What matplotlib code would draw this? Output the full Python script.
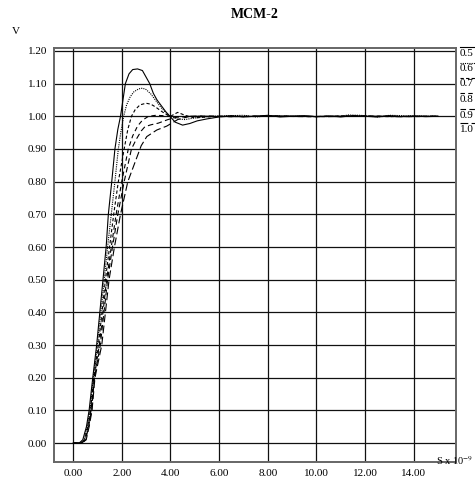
import matplotlib
matplotlib.use("Agg")
import matplotlib.pyplot as plt
from matplotlib.lines import Line2D

plt.rcParams['font.family'] = ['Liberation Serif', 'DejaVu Serif']
plt.rcParams['mathtext.fontset'] = 'stix'

# ---- data (time in ns, voltage in V) ----
labels = ["0.5", "0.6", "0.7", "0.8", "0.9", "1.0"]

t_05 = [0, 0.25, 0.4, 0.55, 0.66, 0.81, 0.97, 1.1, 1.23, 1.36, 1.45, 1.59, 1.72, 1.84, 1.95, 2.05,
        2.15, 2.3, 2.45, 2.65, 2.85, 3.0, 3.15, 3.3, 3.45, 3.6, 3.8, 4.0, 4.2, 4.5, 4.8, 5.1, 5.5,
        6.0, 6.5, 7.0, 7.5, 8.0, 8.5, 9.0, 9.5, 10.0, 10.5, 11.0, 11.5, 12.0, 12.5, 13.0, 13.5,
        14.0, 14.5, 15.0]
v_05 = [0, 0, 0.01, 0.05, 0.10, 0.20, 0.30, 0.40, 0.50, 0.60, 0.70, 0.80, 0.90, 0.96, 1.00, 1.05,
        1.10, 1.13, 1.143, 1.145, 1.14, 1.12, 1.10, 1.07, 1.05, 1.035, 1.015, 0.998, 0.982, 0.973,
        0.978, 0.986, 0.992, 0.998, 1.002, 0.998, 1.0, 1.003, 0.998, 1.0, 1.002, 0.999, 1.001,
        0.998, 1.002, 1.0, 0.998, 1.002, 0.999, 1.001, 0.999, 1.0]

t_06 = [0, 0.3, 0.45, 0.58, 0.7, 0.83, 1.0, 1.14, 1.28, 1.42, 1.57, 1.72, 1.86, 1.97, 2.08, 2.2,
        2.35, 2.5, 2.7, 2.85, 3.0, 3.2, 3.4, 3.6, 3.8, 4.0, 4.3, 4.6, 5.0, 5.5, 6.0, 7.0, 7.5, 8.0,
        9.0, 10.0, 11.0, 11.3, 11.8, 12.5, 13.0, 14.0, 15.0]
v_06 = [0, 0, 0.01, 0.05, 0.10, 0.20, 0.30, 0.40, 0.50, 0.60, 0.70, 0.80, 0.90, 0.955, 1.0, 1.035,
        1.06, 1.075, 1.084, 1.086, 1.082, 1.068, 1.048, 1.028, 1.012, 1.0, 0.992, 0.99, 0.995,
        0.999, 1.001, 1.003, 0.998, 1.001, 1.0, 0.999, 1.0, 1.004, 1.003, 0.998, 1.003, 1.001, 1.0]

t_07 = [0, 0.32, 0.48, 0.6, 0.72, 0.85, 1.04, 1.19, 1.33, 1.5, 1.67, 1.86, 2.1, 2.25, 2.4, 2.55,
        2.75, 3.0, 3.2, 3.4, 3.6, 3.8, 4.0, 4.3, 4.6, 5.0, 5.5, 6.0, 7.0, 8.0, 9.0, 10.0, 11.0,
        12.0, 13.0, 14.0, 15.0]
v_07 = [0, 0, 0.01, 0.05, 0.10, 0.20, 0.30, 0.40, 0.50, 0.60, 0.70, 0.80, 0.90, 0.96, 1.0, 1.02,
        1.035, 1.04, 1.037, 1.028, 1.017, 1.007, 1.0, 1.012, 1.003, 0.995, 0.998, 1.0, 0.999,
        1.001, 1.0, 0.999, 1.001, 1.0, 0.999, 1.0, 1.0]

t_08 = [0, 0.34, 0.5, 0.62, 0.74, 0.87, 1.08, 1.23, 1.38, 1.57, 1.77, 2.0, 2.27, 2.45, 2.65, 2.85,
        3.1, 3.4, 3.7, 4.0, 4.4, 5.0, 6.0, 7.0, 8.0, 9.0, 10.0, 11.0, 12.0, 13.0, 14.0, 15.0]
v_08 = [0, 0, 0.01, 0.05, 0.10, 0.20, 0.30, 0.40, 0.50, 0.60, 0.70, 0.80, 0.90, 0.94, 0.97, 0.988,
        1.0, 1.003, 1.002, 1.0, 0.998, 1.0, 0.999, 1.0, 1.001, 1.0, 0.999, 1.0, 1.001, 1.0, 0.999,
        1.0]

t_09 = [0, 0.35, 0.52, 0.64, 0.76, 0.88, 1.12, 1.27, 1.42, 1.62, 1.84, 2.1, 2.4, 2.6, 2.8, 2.95,
        3.2, 3.5, 3.9, 4.3, 4.8, 5.5, 6.5, 7.5, 8.5, 9.5, 10.5, 11.5, 12.5, 13.5, 14.5, 15.0]
v_09 = [0, 0, 0.01, 0.05, 0.10, 0.20, 0.30, 0.40, 0.50, 0.60, 0.70, 0.80, 0.90, 0.93, 0.955, 0.968,
        0.974, 0.979, 0.99, 0.998, 1.0, 1.001, 0.999, 1.0, 1.0, 0.999, 1.0, 1.001, 1.0, 0.999,
        1.0, 1.0]

t_10 = [0, 0.36, 0.54, 0.66, 0.78, 0.90, 1.18, 1.33, 1.48, 1.7, 1.95, 2.25, 2.6, 2.8, 3.03, 3.44,
        3.85, 4.3, 4.8, 5.5, 6.5, 7.5, 8.5, 9.5, 10.5, 11.5, 12.5, 13.5, 14.5, 15.0]
v_10 = [0, 0, 0.01, 0.05, 0.10, 0.20, 0.30, 0.40, 0.50, 0.60, 0.70, 0.80, 0.87, 0.91, 0.938, 0.958,
        0.97, 0.99, 1.0, 1.0, 0.999, 1.0, 1.001, 1.0, 0.999, 1.0, 1.0, 0.999, 1.0, 1.0]

x_ticks = [0, 2, 4, 6, 8, 10, 12, 14]
y_ticks = [0.0, 0.1, 0.2, 0.3, 0.4, 0.5, 0.6, 0.7, 0.8, 0.9, 1.0, 1.1, 1.2]

series_t = [t_05, t_06, t_07, t_08, t_09, t_10]
series_v = [v_05, v_06, v_07, v_08, v_09, v_10]
styles = ['-', (0, (1, 1)), (0, (3, 2)), (0, (4, 3)), (0, (5, 3)), (0, (7, 3))]

W, H = 475, 483
fig = plt.figure(figsize=(W / 100, H / 100), dpi=100)
ax = fig.add_axes([54.3 / W, 1 - 461.7 / H, (455.7 - 54.3) / W, (461.7 - 48) / H])

for t, v, ls in zip(series_t, series_v, styles):
    ax.plot(t, v, color='black', lw=0.8, linestyle=ls, zorder=3)

ax.set_xlim(-0.77, 15.72)
ax.set_ylim(-0.057, 1.209)
ax.set_xticks(x_ticks)
ax.set_xticklabels([f"{x:.2f}" for x in x_ticks])
ax.set_yticks(y_ticks)
ax.set_yticklabels([f"{y:.2f}" for y in y_ticks])
ax.tick_params(length=0, labelsize=8, pad=5)
ax.grid(True, color='#111111', lw=0.9)
for s in ax.spines.values():
    s.set_color('#666666')
    s.set_linewidth(1.4)

fig.text(255 / W, 1 - 15 / H, "MCM-2", ha='center', va='center', fontsize=10, fontweight='bold')
fig.text(12 / W, 1 - 32 / H, "V", ha='left', va='center', fontsize=8)
fig.text(473 / W, 1 - 461 / H, r"S x 10$^{-9}$", ha='right', va='center', fontsize=7.5)

# legend at the right, with the line drawn above each label
ys = [53, 69, 84, 99, 115, 129]
for lab, ls, y in zip(labels, styles, ys):
    fig.text(460 / W, 1 - y / H, lab, ha='left', va='center', fontsize=8)
    fig.add_artist(Line2D([460 / W, 1.0], [1 - (y - 6) / H] * 2, transform=fig.transFigure,
                          color='black', lw=0.8, linestyle=ls))

fig.savefig("out.png", dpi=100)
